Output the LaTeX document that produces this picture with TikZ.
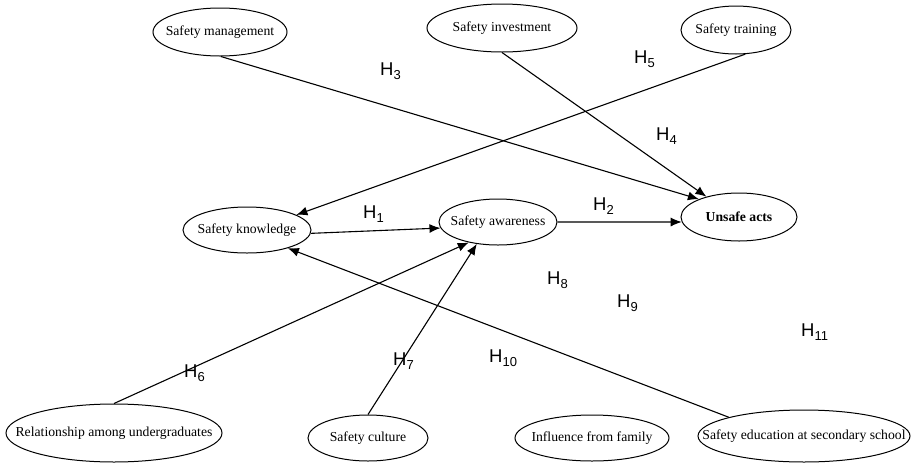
\documentclass[tikz,border=0pt]{standalone}
\usepackage{fontspec}
\setmainfont{Liberation Serif}
\newfontfamily\hypfont{Liberation Sans}
\usetikzlibrary{shapes.geometric,arrows.meta}

% hypothesis label: H with a lowered index
\newcommand{\hyp}[1]{{\hypfont\fontsize{18.5}{20}\selectfont H\raisebox{-4pt}{\fontsize{13}{14}\selectfont #1}}}

\begin{document}
\begin{tikzpicture}[x=1pt,y=-1pt,
  construct/.style={ellipse, draw, line width=1pt, inner sep=0pt,
    font=\fontsize{13.7}{15}\selectfont},
  link/.style={draw, line width=1.1pt, -{Latex[length=11pt,width=9pt]}},
  hlabel/.style={anchor=base west, inner sep=0pt}]
\useasboundingbox (0,0) rectangle (911,464);

% constructs
\node[construct, minimum width=134pt, minimum height=48pt] (sm)  at (220,32)  {\makebox[0pt]{Safety management}};
\node[construct, minimum width=150pt, minimum height=48pt] (si)  at (502,28)  {\makebox[0pt]{Safety investment}};
\node[construct, minimum width=110pt, minimum height=48pt] (st)  at (736,30)  {\makebox[0pt]{Safety training}};
\node[construct, minimum width=128pt, minimum height=46pt] (sk)  at (247,230) {\makebox[0pt]{Safety knowledge}};
\node[construct, minimum width=118pt, minimum height=46pt] (sa)  at (498,222) {\makebox[0pt]{Safety awareness}};
\node[construct, minimum width=116pt, minimum height=48pt, font=\fontsize{13.7}{15}\selectfont\bfseries] (ua) at (739,217) {\makebox[0pt]{Unsafe acts}};
\node[construct, minimum width=216pt, minimum height=58pt] (rel) at (114,433) {\makebox[0pt]{Relationship among undergraduates}};
\node[construct, minimum width=120pt, minimum height=46pt] (sc)  at (368,438) {\makebox[0pt]{Safety culture}};
\node[construct, minimum width=154pt, minimum height=46pt] (fam) at (592,438) {\makebox[0pt]{Influence from family}};
\node[construct, minimum width=212pt, minimum height=52pt] (sed) at (804,436) {\makebox[0pt]{Safety education at secondary school}};

% hypothesised paths
\draw[link] (sm.-88)  -- (ua.156);
\draw[link] (si.south) -- (ua.148);
\draw[link] (st.-69)  -- (sk.17);
\draw[link] (sk.-3)   -- (sa.186);
\draw[link] (sa.east) -- (ua.185);
\draw[link] (rel.north) -- (sa.215);
\draw[link] (sc.north)  -- (sa.226);
\draw[link] (sed.166)   -- (sk.-24);

% hypothesis labels
\node[hlabel] (h1)  at (363,218) {\hyp{1}};
\node[hlabel] (h2)  at (593,210) {\hyp{2}};
\node[hlabel] (h3)  at (380,75)  {\hyp{3}};
\node[hlabel] (h4)  at (656,140) {\hyp{4}};
\node[hlabel] (h5)  at (634,63)  {\hyp{5}};
\node[hlabel] (h6)  at (184,377) {\hyp{6}};
\node[hlabel] (h7)  at (393,365) {\hyp{7}};
\node[hlabel] (h8)  at (547,284) {\hyp{8}};
\node[hlabel] (h9)  at (617,307) {\hyp{9}};
\node[hlabel] (h10) at (489,362) {\hyp{10}};
\node[hlabel] (h11) at (801,336) {\hyp{11}};
\end{tikzpicture}
\end{document}
